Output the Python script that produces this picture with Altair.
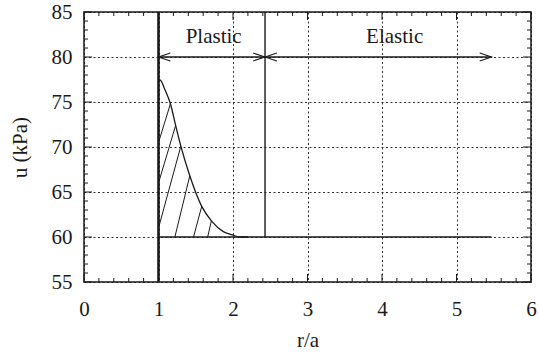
import altair as alt
import pandas as pd
import numpy as np

# ---- data ----
curve_x = [1.0, 1.03, 1.08, 1.16, 1.23, 1.30, 1.42, 1.58, 1.71, 1.87, 2.0, 2.1, 2.2]
curve_y = [77.5, 77.4, 76.5, 74.8, 72.4, 70.1, 66.8, 63.4, 61.8, 60.6, 60.2, 60.0, 60.0]

hatch_x0 = [1.0, 1.0, 1.0, 1.22, 1.47, 1.66]
hatch_y0 = [70.5, 66.0, 61.0, 60.0, 60.0, 60.0]
hatch_x1 = [1.16, 1.23, 1.30, 1.42, 1.58, 1.71]
hatch_y1 = [74.8, 72.4, 70.1, 66.8, 63.4, 61.8]

wall_x = 1.0          # r/a = 1
boundary_x = 2.43     # plastic / elastic boundary
far_x = 5.47          # end of elastic arrow / base line
u0 = 60.0             # ambient pore pressure
arrow_y = 80.0

labels = ["Plastic", "Elastic"]
label_x = [1.74, 4.17]
label_y = [82.2, 82.2]

x_major = [0, 1, 2, 3, 4, 5, 6]
y_major = [55, 60, 65, 70, 75, 80, 85]
x_minor = [round(v, 1) for v in np.arange(0, 6.01, 0.2) if abs(v - round(v)) > 1e-6]
y_minor = [v for v in range(55, 86) if v % 5 != 0]

W, H = 447, 270
FONT = "Liberation Serif"
INK = "#1a1a1a"
FS = 21

xs = alt.Scale(domain=[0, 6], nice=False, zero=False)
ys = alt.Scale(domain=[55, 85], nice=False, zero=False)

# ---- base with axes and dotted grid ----
grid_df = pd.DataFrame({"x": [3.0], "y": [70.0]})
base = alt.Chart(grid_df).mark_point(opacity=0).encode(
    x=alt.X("x:Q", scale=xs, title="r/a",
            axis=alt.Axis(values=x_major, format="d", ticks=False, domain=False, grid=True,
                          gridDash=[2, 2.5], gridColor=INK, gridWidth=1, gridOpacity=0.9,
                          labelFont=FONT, labelFontSize=FS, labelColor=INK, labelPadding=16,
                          titleFont=FONT, titleFontSize=FS, titleFontWeight="normal",
                          titleColor=INK, titlePadding=10, labelFlush=False)),
    y=alt.Y("y:Q", scale=ys, title="u (kPa)",
            axis=alt.Axis(values=y_major, format="d", ticks=False, domain=False, grid=True,
                          gridDash=[2, 2.5], gridColor=INK, gridWidth=1, gridOpacity=0.9,
                          labelFont=FONT, labelFontSize=FS, labelColor=INK, labelPadding=12,
                          titleFont=FONT, titleFontSize=FS, titleFontWeight="normal",
                          titleColor=INK, titlePadding=21, labelFlush=False)),
)

layers = [base]

# ---- inward ticks on all four sides ----
def xticks(vals, length):
    df = pd.DataFrame({"x": vals})
    bot = alt.Chart(df).mark_rule(color=INK, strokeWidth=1).encode(
        x=alt.X("x:Q", scale=xs), y=alt.value(H), y2=alt.value(H - length))
    top = alt.Chart(df).mark_rule(color=INK, strokeWidth=1).encode(
        x=alt.X("x:Q", scale=xs), y=alt.value(0), y2=alt.value(length))
    return [bot, top]

def yticks(vals, length):
    df = pd.DataFrame({"y": vals})
    left = alt.Chart(df).mark_rule(color=INK, strokeWidth=1).encode(
        y=alt.Y("y:Q", scale=ys), x=alt.value(0), x2=alt.value(length))
    right = alt.Chart(df).mark_rule(color=INK, strokeWidth=1).encode(
        y=alt.Y("y:Q", scale=ys), x=alt.value(W), x2=alt.value(W - length))
    return [left, right]

layers += xticks(x_major, 8) + xticks(x_minor, 4) + yticks(y_major, 8) + yticks(y_minor, 4)

# ---- base line u = 60 from wall to far end ----
base_df = pd.DataFrame({"x": [wall_x], "x2": [far_x], "y": [u0]})
layers.append(alt.Chart(base_df).mark_rule(color=INK, strokeWidth=1.4).encode(
    x=alt.X("x:Q", scale=xs), x2="x2:Q", y=alt.Y("y:Q", scale=ys)))

# ---- wall line (thick) ----
wall_df = pd.DataFrame({"x": [wall_x], "y": [55.0], "y2": [85.0]})
layers.append(alt.Chart(wall_df).mark_rule(color=INK, strokeWidth=2.6).encode(
    x=alt.X("x:Q", scale=xs), y=alt.Y("y:Q", scale=ys), y2="y2:Q"))

# ---- plastic/elastic boundary ----
bnd_df = pd.DataFrame({"x": [boundary_x], "y": [u0], "y2": [85.0]})
layers.append(alt.Chart(bnd_df).mark_rule(color=INK, strokeWidth=1.4).encode(
    x=alt.X("x:Q", scale=xs), y=alt.Y("y:Q", scale=ys), y2="y2:Q"))

# ---- arrow line at u = 80 ----
arr_df = pd.DataFrame({"x": [wall_x], "x2": [far_x], "y": [arrow_y]})
layers.append(alt.Chart(arr_df).mark_rule(color=INK, strokeWidth=1.4).encode(
    x=alt.X("x:Q", scale=xs), x2="x2:Q", y=alt.Y("y:Q", scale=ys)))

left_heads = pd.DataFrame({"x": [wall_x, boundary_x], "y": [arrow_y, arrow_y]})
right_heads = pd.DataFrame({"x": [boundary_x, far_x], "y": [arrow_y, arrow_y]})
layers.append(alt.Chart(left_heads).mark_point(
    shape="M 1 -0.33 L 0 0 L 1 0.33", filled=False, size=560, color=INK, strokeWidth=1.1, opacity=1
).encode(x=alt.X("x:Q", scale=xs), y=alt.Y("y:Q", scale=ys)))
layers.append(alt.Chart(right_heads).mark_point(
    shape="M -1 -0.33 L 0 0 L -1 0.33", filled=False, size=560, color=INK, strokeWidth=1.1, opacity=1
).encode(x=alt.X("x:Q", scale=xs), y=alt.Y("y:Q", scale=ys)))

# ---- curve ----
curve_df = pd.DataFrame({"x": curve_x, "y": curve_y})
layers.append(alt.Chart(curve_df).mark_line(color=INK, strokeWidth=1.3, interpolate="monotone").encode(
    x=alt.X("x:Q", scale=xs), y=alt.Y("y:Q", scale=ys)))

# ---- hatch lines ----
hatch_df = pd.DataFrame({"x": hatch_x0, "y": hatch_y0, "x2": hatch_x1, "y2": hatch_y1})
layers.append(alt.Chart(hatch_df).mark_rule(color=INK, strokeWidth=1).encode(
    x=alt.X("x:Q", scale=xs), y=alt.Y("y:Q", scale=ys), x2="x2:Q", y2="y2:Q"))

# ---- region labels ----
lab_df = pd.DataFrame({"t": labels, "x": label_x, "y": label_y})
layers.append(alt.Chart(lab_df).mark_text(font=FONT, fontSize=FS, color=INK, baseline="middle").encode(
    x=alt.X("x:Q", scale=xs), y=alt.Y("y:Q", scale=ys), text="t:N"))

chart = alt.layer(*layers).properties(
    width=W, height=H,
    autosize=alt.AutoSizeParams(type="none"),
    padding={"left": 84, "top": 12, "right": 8, "bottom": 73},
    background="white",
).configure_view(stroke=INK, strokeWidth=1.5)

chart.save("out.html", embed_options={"renderer": "svg", "actions": False})
